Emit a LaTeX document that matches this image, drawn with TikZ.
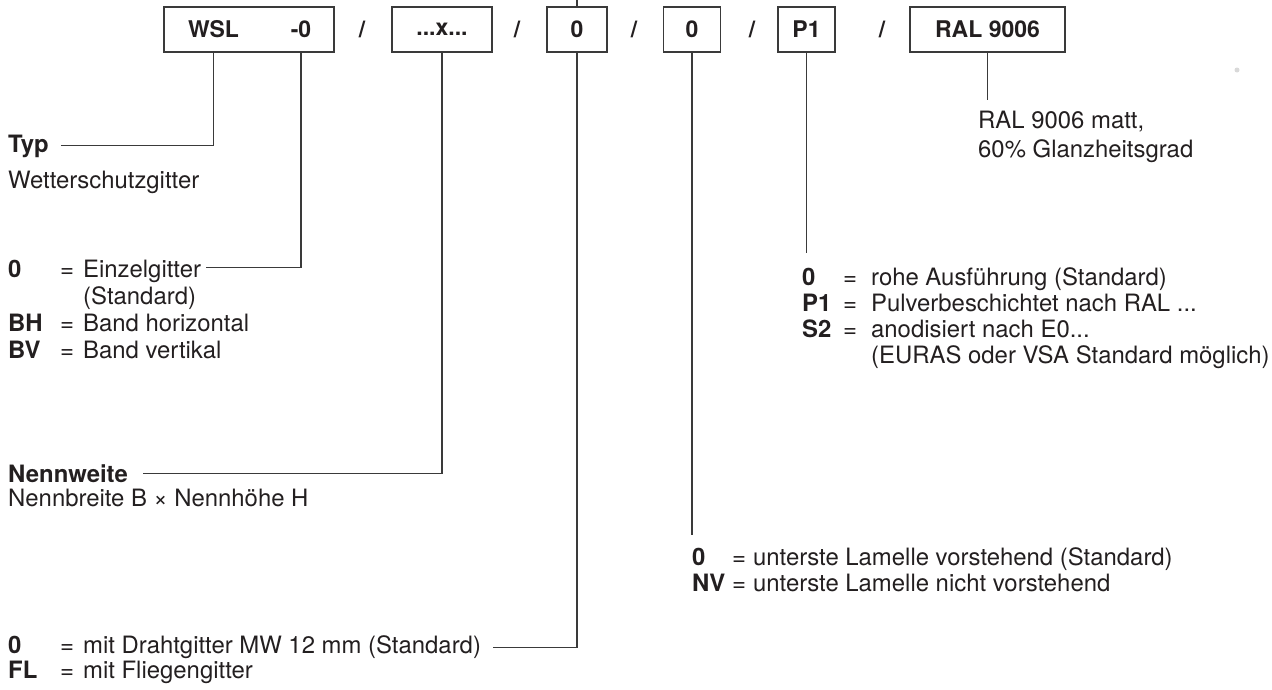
\documentclass[tikz,border=0pt]{standalone}
\usepackage{fontspec}
\setmainfont{TeX Gyre Heros}
\definecolor{ink}{HTML}{231F20}
\definecolor{lnc}{HTML}{3A3A3A}
\newcommand\lrow[2]{\makebox[52pt][l]{\textbf{#1}}=\hspace{9pt}#2}
\newcommand\rrow[2]{\makebox[41pt][l]{\textbf{#1}}=\hspace{14pt}#2}
\newcommand\mrow[2]{\makebox[40pt][l]{\textbf{#1}}=\hspace{7pt}#2}
\begin{document}
\begin{tikzpicture}[x=1pt,y=-1pt,
  txt/.style={anchor=base west, inner sep=0pt, font=\fontsize{23.9}{27}\selectfont, text=ink},
  codebox/.style={draw=lnc, line width=1.1pt, minimum height=45pt, inner sep=0pt},
  boxtxt/.style={inner sep=0pt, font=\fontsize{23}{26}\selectfont\bfseries, text=ink},
  conn/.style={draw=lnc, line width=1.1pt}]
\useasboundingbox (0,0) rectangle (1272,689);

% code boxes
\node[codebox, minimum width=170pt] (b1) at (249,29.5) {};
\node[boxtxt] (wsl) at (213.5,29.5) {WSL};
\node[boxtxt] (dash) at (301,29.5) {-0};
\node[boxtxt] (s1) at (362,29.5) {/};
\node[codebox, boxtxt, minimum width=100pt, inner sep=0pt] (bx) at (442,29.5) {...x...};
\node[boxtxt] (s2) at (517,29.5) {/};
\node[codebox, boxtxt, minimum width=60pt] (b0a) at (577,29.5) {0};
\node[boxtxt] (s3) at (634,29.5) {/};
\node[codebox, boxtxt, minimum width=57pt] (b0b) at (692,29.5) {0};
\node[boxtxt] (s4) at (752,29.5) {/};
\node[codebox, boxtxt, minimum width=57pt] (bp1) at (806.5,29.5) {P1};
\node[boxtxt] (s5) at (882,29.5) {/};
\node[codebox, boxtxt, minimum width=155pt] (bral) at (987.5,29.5) {RAL 9006};

% left column
\node[txt] (typ) at (8,152) {\textbf{Typ}};
\node[txt] (wsg) at (8,188) {Wetterschutzgitter};
\node[txt] (e0) at (8,277) {\lrow{0}{Einzelgitter}};
\node[txt] (estd) at (83,304) {(Standard)};
\node[txt] (ebh) at (8,331) {\lrow{BH}{Band horizontal}};
\node[txt] (ebv) at (8,358) {\lrow{BV}{Band vertikal}};
\node[txt] (nw) at (8,482) {\textbf{Nennweite}};
\node[txt] (nb) at (8,506) {Nennbreite B × Nennhöhe H};
\node[txt] (d0) at (8,653) {\lrow{0}{mit Drahtgitter MW 12 mm (Standard)}};
\node[txt] (dfl) at (8,678) {\lrow{FL}{mit Fliegengitter}};

% right column
\node[txt] (ral1) at (978,128) {RAL 9006 matt,};
\node[txt] (ral2) at (978,157) {60\% Glanzheitsgrad};
\node[txt] (r0) at (802,285) {\rrow{0}{rohe Ausführung (Standard)}};
\node[txt] (rp1) at (802,311) {\rrow{P1}{Pulverbeschichtet nach RAL ...}};
\node[txt] (rs2) at (802,337) {\rrow{S2}{anodisiert nach E0...}};
\node[txt] (reur) at (871,363) {(EURAS oder VSA Standard möglich)};

% middle bottom
\node[txt] (m0) at (692,565) {\mrow{0}{unterste Lamelle vorstehend (Standard)}};
\node[txt] (mnv) at (692,591) {\mrow{NV}{unterste Lamelle nicht vorstehend}};

% free ends
\coordinate (topend) at (577,0);
\coordinate (ralend) at (987.5,100);
\coordinate (p1end) at (806.5,253);
\coordinate (nvend) at (692,535);

% connectors
\draw[conn] ([xshift=12pt]typ.east) -| (wsl.south |- b1.south);
\draw[conn] ([xshift=5pt,yshift=3pt]e0.east) -| (dash.south |- b1.south);
\draw[conn] ([xshift=15pt]nw.east) -| (bx.south);
\draw[conn] ([xshift=12pt,yshift=-1pt]d0.east) -| (b0a.south);
\draw[conn] (b0a.north) -- (topend);
\draw[conn] (b0b.south) -- (nvend);
\draw[conn] (bp1.south) -- (p1end);
\draw[conn] (bral.south) -- (ralend);

% faint dot
\fill[gray!30] (1237,70) circle (2.5pt);
\end{tikzpicture}
\end{document}
